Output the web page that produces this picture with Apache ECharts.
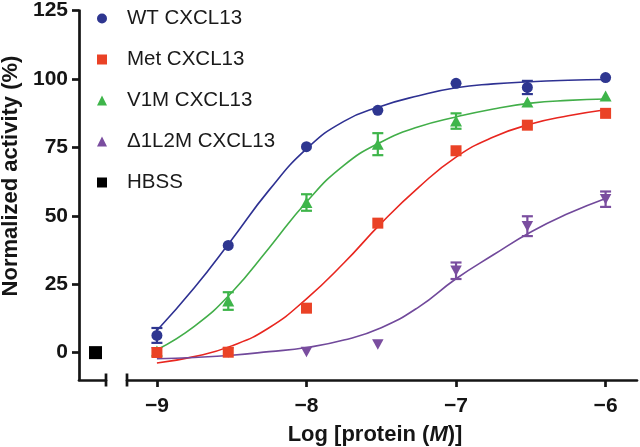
<!DOCTYPE html>
<html>
<head>
<meta charset="utf-8">
<script src="https://cdn.jsdelivr.net/npm/echarts@6/dist/echarts.min.js"></script>
<style>html,body{margin:0;padding:0;background:#fff;}#c{width:640px;height:447px;}</style>
</head>
<body>
<div id="c"></div>
<script>
// ---- data ----
const doseX = [-9, -8.523, -8, -7.523, -7, -6.523, -6];
const wtVals  = [6.2, 38.9, 74.8, 88.0, 97.8, 96.3, 99.9];
const wtErr   = [2.7, 0, 0, 0, 0, 2.4, 0];
const metVals = [0, 0.1, 16.1, 47.0, 73.3, 82.6, 86.9];
const metErr  = [0, 0, 0, 0, 0, 0, 0];
const v1mVals = [0.5, 18.7, 54.5, 75.7, 84.1, 91.0, 93.2];
const v1mErr  = [0, 3.2, 3.0, 4.0, 2.8, 0, 0];
const dlVals  = [0, 0, 0.2, 2.9, 29.7, 45.9, 55.7];
const dlErr   = [0, 0, 0, 0, 3.0, 3.6, 2.8];
const hbssX = [-9.41];
const hbssVals = [0];

// fitted curves
const curveX   = [-9, -8.75, -8.5, -8.25, -8, -7.75, -7.5, -7.25, -7, -6.75, -6.5, -6.25, -6];
const wtCurve  = [8, 23.5, 41, 59, 74, 84, 89.5, 93.3, 96.2, 97.6, 98.4, 98.9, 99.2];
const v1mCurve = [1, 9.5, 21.8, 38, 54.7, 68, 76.5, 82, 85.6, 88.5, 90.6, 91.6, 92.1];
const metCurve = [-3.8, -1.5, 2.4, 9, 19.5, 32.5, 47, 60, 71, 78.3, 83, 86, 88.2];
const dlCurve  = [-2.3, -1.8, -1, 0.3, 1.8, 4.5, 9, 16.5, 26.8, 35.5, 43.8, 50.5, 56];

const yTicks = [0, 25, 50, 75, 100, 125];
const xTicks = [-9, -8, -7, -6];
const xTickLabels = ['\u22129', '\u22128', '\u22127', '\u22126'];
const leftBreak = [[-9.34, -10]];
const rightBreak = [[-9.2, -10]];

const names = ['WT CXCL13', 'Met CXCL13', 'V1M CXCL13', '\u03941L2M CXCL13', 'HBSS'];

// ---- styles ----
const C = { wt: '#2e3690', met: '#ea4226', v1m: '#3eb54a', dl: '#7a4d9f', axis: '#151515' };
const LC = { wt: '#2e3192', met: '#e8261f', v1m: '#42ae49', dl: '#71499b' };
const AXW = 2.7;
const FONT = 'Liberation Sans, Arial, sans-serif';

const zip = (xs, ys) => xs.map((x, i) => [x, ys[i]]);
const errData = (xs, ys, es) => xs.map((x, i) => [x, ys[i] - es[i], ys[i] + es[i]]).filter((d, i) => es[i] > 0);

function errSeries(data, color) {
  return {
    type: 'custom', xAxisIndex: 1, yAxisIndex: 1, z: 3, silent: true, clip: false,
    data: data,
    renderItem: function (params, api) {
      const x = api.value(0);
      const lo = api.coord([x, api.value(1)]);
      const hi = api.coord([x, api.value(2)]);
      const hw = 5.5;
      const st = { stroke: color, lineWidth: 2.2 };
      return { type: 'group', children: [
        { type: 'line', shape: { x1: lo[0], y1: lo[1], x2: hi[0], y2: hi[1] }, style: st },
        { type: 'line', shape: { x1: lo[0] - hw, y1: lo[1], x2: lo[0] + hw, y2: lo[1] }, style: st },
        { type: 'line', shape: { x1: hi[0] - hw, y1: hi[1], x2: hi[0] + hw, y2: hi[1] }, style: st }
      ]};
    }
  };
}
function breakSeries(data, idx) {
  return {
    type: 'custom', xAxisIndex: idx, yAxisIndex: idx, z: 10, silent: true, clip: false,
    data: data,
    renderItem: function (params, api) {
      const p = api.coord([api.value(0), api.value(1)]);
      return { type: 'line', shape: { x1: p[0], y1: p[1] - 6.5, x2: p[0], y2: p[1] + 6.5 },
               style: { stroke: C.axis, lineWidth: AXW } };
    }
  };
}
function curve(ys, color) {
  return { type: 'line', xAxisIndex: 1, yAxisIndex: 1, data: zip(curveX, ys), smooth: 0.5,
           showSymbol: false, silent: true, z: 2, lineStyle: { color: color, width: 1.6 } };
}

const chart = echarts.init(document.getElementById('c'), null, { renderer: 'canvas' });
const option = {
  animation: false,
  backgroundColor: '#fff',
  grid: [
    { left: 79, right: 534, top: 8.5, bottom: 67 },
    { left: 127, right: 3, top: 8.5, bottom: 67 }
  ],
  xAxis: [
    { gridIndex: 0, type: 'value', min: -9.52, max: -9.34,
      axisLine: { onZero: false, lineStyle: { color: C.axis, width: AXW } },
      axisTick: { show: false }, axisLabel: { show: false }, splitLine: { show: false } },
    { gridIndex: 1, type: 'value', min: -9.2, max: -5.79,
      axisLine: { onZero: false, lineStyle: { color: C.axis, width: AXW } },
      axisTick: { show: true, customValues: xTicks, length: 7, lineStyle: { color: C.axis, width: AXW } },
      axisLabel: { customValues: xTicks, margin: 16, fontSize: 21, fontWeight: 'bold', fontFamily: FONT, color: C.axis,
                   formatter: v => xTickLabels[xTicks.indexOf(Math.round(v))] },
      splitLine: { show: false } }
  ],
  yAxis: [
    { gridIndex: 0, type: 'value', min: -10, max: 125,
      axisLine: { show: true, onZero: false, lineStyle: { color: C.axis, width: AXW } },
      axisTick: { show: true, customValues: yTicks, length: 7, lineStyle: { color: C.axis, width: AXW } },
      axisLabel: { customValues: yTicks, margin: 11, fontSize: 21, fontWeight: 'bold', fontFamily: FONT, color: C.axis },
      splitLine: { show: false } },
    { gridIndex: 1, type: 'value', min: -10, max: 125, show: false, splitLine: { show: false } }
  ],
  legend: {
    orient: 'vertical', left: 97, top: 8, padding: 0, itemGap: 20, itemWidth: 10, itemHeight: 10,
    selectedMode: false, data: names,
    textStyle: { fontSize: 20.5, fontFamily: FONT, color: '#1a1a1a', lineHeight: 20, padding: [0, 0, 0, 15] }
  },
  graphic: [
    { type: 'text', x: 11, y: 176, rotation: Math.PI / 2,
      style: { text: 'Normalized activity (%)', font: 'bold 22px ' + FONT, fill: C.axis, align: 'center', verticalAlign: 'middle' } },
    { type: 'text', x: 375, y: 435,
      style: { text: '{a|Log [protein (}{b|M}{a|)]}', align: 'center', verticalAlign: 'middle',
               rich: { a: { font: 'bold 22px ' + FONT, fill: C.axis }, b: { font: 'italic bold 22px ' + FONT, fill: C.axis } } } }
  ],
  series: [
    curve(wtCurve, LC.wt), curve(metCurve, LC.met), curve(v1mCurve, LC.v1m), curve(dlCurve, LC.dl),
    errSeries(errData(doseX, wtVals, wtErr), C.wt),
    errSeries(errData(doseX, v1mVals, v1mErr), C.v1m),
    errSeries(errData(doseX, dlVals, dlErr), C.dl),
    { name: names[0], type: 'scatter', xAxisIndex: 1, yAxisIndex: 1, z: 5, symbol: 'circle', symbolSize: 11,
      itemStyle: { color: C.wt, opacity: 1 }, data: zip(doseX, wtVals) },
    { name: names[2], type: 'scatter', xAxisIndex: 1, yAxisIndex: 1, z: 5, symbol: 'triangle', symbolSize: [12, 11],
      itemStyle: { color: C.v1m, opacity: 1 }, data: zip(doseX, v1mVals) },
    { name: names[3], type: 'scatter', xAxisIndex: 1, yAxisIndex: 1, z: 5, symbol: 'triangle', symbolRotate: 180, symbolSize: [11.5, 10.5],
      itemStyle: { color: C.dl, opacity: 1 }, data: zip(doseX, dlVals) },
    { name: names[1], type: 'scatter', xAxisIndex: 1, yAxisIndex: 1, z: 6, symbol: 'rect', symbolSize: 11,
      itemStyle: { color: C.met, opacity: 1 }, data: zip(doseX, metVals) },
    { name: names[4], type: 'scatter', xAxisIndex: 0, yAxisIndex: 0, z: 5, symbol: 'rect', symbolSize: 13,
      itemStyle: { color: '#000', opacity: 1 }, data: zip(hbssX, hbssVals) },
    breakSeries(leftBreak, 0), breakSeries(rightBreak, 1)
  ]
};
chart.setOption(option);
</script>
</body>
</html>
